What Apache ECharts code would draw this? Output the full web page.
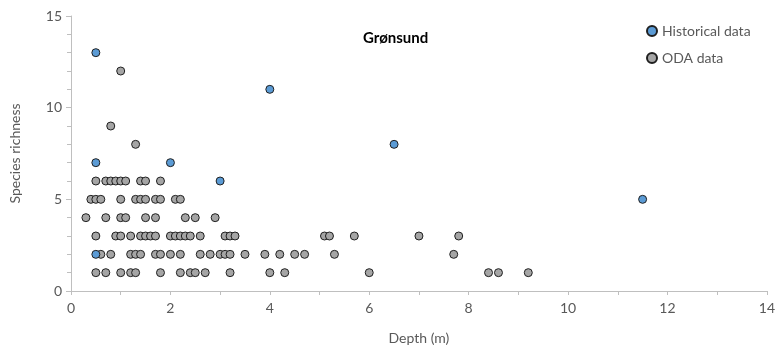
<!DOCTYPE html>
<html>
<head>
<meta charset="utf-8">
<script src="https://cdn.jsdelivr.net/npm/echarts@6/dist/echarts.min.js"></script>
<style>html,body{margin:0;padding:0;background:#fff}#c{width:778px;height:354px}</style>
</head>
<body>
<div id="c"></div>
<script>
const title = 'Grønsund';
const xName = 'Depth (m)';
const yName = 'Species richness';
const seriesNames = ['Historical data', 'ODA data'];

const histDepth = [0.5, 0.5, 0.5, 2.0, 3.0, 4.0, 6.5, 11.5];
const histRich  = [13, 7, 2, 7, 6, 11, 8, 5];

const odaDepth12 = [1.0];
const odaDepth9 = [0.8];
const odaDepth8 = [1.3];
const odaDepth6 = [0.5, 0.7, 0.8, 0.9, 1.0, 1.1, 1.4, 1.5, 1.8];
const odaDepth5 = [0.4, 0.5, 0.6, 1.0, 1.3, 1.4, 1.5, 1.7, 1.8, 2.1, 2.2];
const odaDepth4 = [0.3, 0.7, 1.0, 1.1, 1.5, 1.7, 2.3, 2.5, 2.9];
const odaDepth3 = [0.5, 0.9, 1.0, 1.2, 1.4, 1.5, 1.6, 1.7, 2.0, 2.1, 2.2, 2.3, 2.4, 2.6, 3.1, 3.2, 3.3, 5.1, 5.2, 5.7, 7.0, 7.8];
const odaDepth2 = [0.6, 0.8, 1.2, 1.3, 1.4, 1.7, 1.8, 2.0, 2.2, 2.6, 2.8, 3.0, 3.1, 3.2, 3.5, 3.9, 4.2, 4.5, 4.7, 5.3, 7.7];
const odaDepth1 = [0.5, 0.7, 1.0, 1.2, 1.3, 1.8, 2.2, 2.4, 2.5, 2.7, 3.2, 4.0, 4.3, 6.0, 8.4, 8.6, 9.2];

const odaGroups = [
  [12, odaDepth12], [9, odaDepth9], [8, odaDepth8], [6, odaDepth6], [5, odaDepth5],
  [4, odaDepth4], [3, odaDepth3], [2, odaDepth2], [1, odaDepth1]
];

const odaData = [];
odaGroups.forEach(([r, ds]) => ds.forEach(d => odaData.push([d, r])));
const histData = histDepth.map((d, i) => [d, histRich[i]]);

const FONT = 'Lato';
const chart = echarts.init(document.getElementById('c'), null, {renderer: 'canvas'});
chart.setOption({
  animation: false,
  textStyle: {fontFamily: FONT},
  title: {
    text: title, left: 358, top: 26,
    textStyle: {fontFamily: FONT, fontSize: 15, fontWeight: 'bold', color: '#000'}
  },
  legend: {
    orient: 'vertical', left: 641, top: 19, itemGap: 13,
    itemWidth: 10, itemHeight: 10,
    textStyle: {fontFamily: FONT, fontSize: 14, color: '#595959'},
    data: seriesNames.map(n => ({name: n, icon: 'circle'}))
  },
  grid: {left: 71, right: 10, top: 16, bottom: 63, containLabel: false},
  xAxis: {
    type: 'value', min: 0, max: 14, interval: 1,
    name: xName, nameLocation: 'middle', nameGap: 40,
    nameTextStyle: {fontFamily: FONT, fontSize: 14, color: '#595959'},
    axisLine: {show: true, lineStyle: {color: '#BFBFBF', width: 1}},
    axisTick: {show: true, length: 4, lineStyle: {color: '#BFBFBF'}},
    axisLabel: {
      fontFamily: FONT, fontSize: 14, color: '#595959', margin: 10,
      formatter: v => (Math.round(v) % 2 === 0 ? String(v) : '')
    },
    splitLine: {show: false}
  },
  yAxis: {
    type: 'value', min: 0, max: 15, interval: 5,
    name: yName, nameLocation: 'middle', nameGap: 49, nameRotate: 90,
    nameTextStyle: {fontFamily: FONT, fontSize: 14, color: '#595959'},
    axisLine: {show: true, lineStyle: {color: '#BFBFBF', width: 1}},
    axisTick: {show: true, length: 5, lineStyle: {color: '#BFBFBF'}},
    minorTick: {show: true, splitNumber: 5, length: 4, lineStyle: {color: '#BFBFBF'}},
    axisLabel: {fontFamily: FONT, fontSize: 14, color: '#595959', margin: 9},
    splitLine: {show: false}
  },
  series: [
    {
      name: seriesNames[0], type: 'scatter', data: histData, symbolSize: 8, z: 3,
      itemStyle: {color: '#5B9BD5', borderColor: '#1F1F1F', borderWidth: 1, opacity: 1}
    },
    {
      name: seriesNames[1], type: 'scatter', data: odaData, symbolSize: 8, z: 2,
      itemStyle: {color: '#A5A5A5', borderColor: '#1F1F1F', borderWidth: 1, opacity: 1}
    }
  ]
});
</script>
</body>
</html>
